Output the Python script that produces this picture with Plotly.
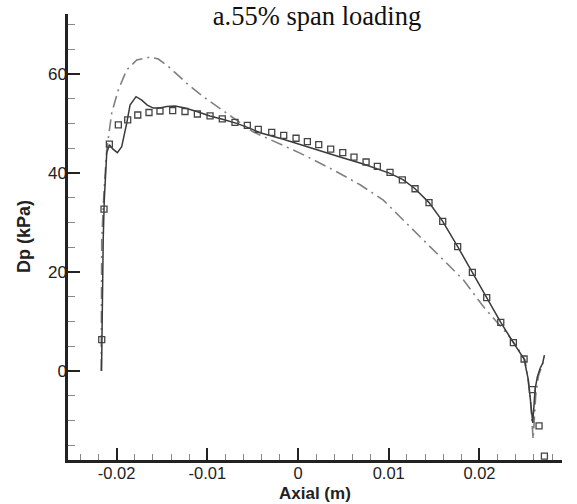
import plotly.graph_objects as go

# Experimental (squares)
exp_x = [-0.02164, -0.02139, -0.02080, -0.01981, -0.01878, -0.01767, -0.01643, -0.01522, -0.01382,
         -0.01246, -0.01110, -0.00970, -0.00835, -0.00695, -0.00559, -0.00438, -0.00290, -0.00158,
         -0.00022, 0.00103, 0.00228, 0.00360, 0.00493, 0.00617, 0.00750, 0.00874, 0.01014, 0.01150,
         0.01290, 0.01444, 0.01595, 0.01760, 0.01922, 0.02080, 0.02235, 0.02374, 0.02492, 0.02583,
         0.02657, 0.02716]
exp_y = [6.3, 32.7, 45.8, 49.7, 50.7, 51.7, 52.2, 52.5, 52.6, 52.4, 51.9, 51.5, 50.9, 50.2, 49.6,
         48.8, 48.2, 47.6, 47.0, 46.3, 45.7, 44.8, 44.1, 43.2, 42.2, 41.3, 40.1, 38.6, 36.8, 34.0,
         30.2, 25.1, 19.9, 14.8, 9.8, 5.7, 2.4, -3.8, -11.1, -17.2]

# Solid line
sol_x = [-0.02166, -0.02158, -0.02148, -0.02136, -0.02109, -0.02080, -0.02040, -0.01992, -0.01944,
         -0.01889, -0.01852, -0.01786, -0.01723, -0.01662, -0.01595, -0.01522, -0.01448, -0.01356,
         -0.01246, -0.01117, -0.00970, -0.00824, -0.00676, -0.00529, -0.00419, -0.00162, 0.00206,
         0.00463, 0.00720, 0.01014, 0.01161, 0.01290, 0.01444, 0.01595, 0.01760, 0.01922, 0.02080,
         0.02235, 0.02374, 0.02492, 0.02539, 0.02569, 0.02588, 0.02613, 0.02638, 0.02668, 0.02698,
         0.02716]
sol_y = [0, 14, 26.5, 34.5, 44.0, 45.7, 44.8, 44.1, 45.3, 50.0, 53.7, 55.4, 54.7, 53.7, 53.1, 53.1,
         53.4, 53.5, 53.1, 52.4, 51.5, 50.8, 50.0, 49.0, 48.1, 46.8, 44.6, 43.2, 41.8, 39.9, 38.6,
         36.8, 34.0, 30.2, 25.1, 19.9, 14.8, 9.8, 5.7, 2.4, -1.8, -6.5, -10.5, -3.8, -1.2, 0.5, 1.6,
         3.2]

# Dash-dot line
dd_x = [-0.02170, -0.02164, -0.02140, -0.02109, -0.02054, -0.01981, -0.01889, -0.01778, -0.01632,
        -0.01540, -0.01411, -0.01227, -0.01044, -0.00860, -0.00713, -0.00496, -0.00309, 0.00022,
        0.00389, 0.00684, 0.00940, 0.01125, 0.01345, 0.01565, 0.01822, 0.02043, 0.02191, 0.02301,
        0.02411, 0.02503, 0.02558, 0.02592, 0.02620, 0.02650, 0.02690, 0.02716]
dd_y = [0, 26.5, 36.0, 44.6, 52.1, 56.8, 60.8, 62.8, 63.4, 63.0, 61.2, 58.1, 55.4, 53.1, 51.1, 48.3,
        46.7, 44.0, 40.6, 37.6, 34.5, 31.2, 27.1, 23.1, 18.4, 13.0, 10.0, 7.6, 4.9, 2.2, -4.8, -13.8,
        -5.0, -1.0, 1.0, 2.8]

x_ticks = [-0.02, -0.01, 0, 0.01, 0.02]
x_tick_text = ["-0.02", "-0.01", "0", "0.01", "0.02"]
y_ticks = [0, 20, 40, 60]

fig = go.Figure()
fig.add_trace(go.Scatter(x=dd_x, y=dd_y, mode="lines",
                         line=dict(color="#808080", width=1.6, dash="12px,5px,2px,5px")))
fig.add_trace(go.Scatter(x=sol_x, y=sol_y, mode="lines",
                         line=dict(color="#3a3a3a", width=1.5)))
fig.add_trace(go.Scatter(x=exp_x, y=exp_y, mode="markers",
                         marker=dict(symbol="square-open", size=6, color="#444444",
                                     line=dict(width=1.3, color="#444444"))))

fig.update_layout(
    width=577, height=504,
    margin=dict(l=68, r=15, t=14, b=44),
    paper_bgcolor="white", plot_bgcolor="white",
    showlegend=False,
    title=dict(text="a.55% span loading", x=317 / 577, xanchor="center", y=1 - 16 / 504,
               yanchor="middle", yref="container",
               font=dict(family="Liberation Serif", size=26.5, color="#111111")),
    xaxis=dict(range=[-0.02536, 0.0291], tickvals=x_ticks, ticktext=x_tick_text,
               automargin=False, ticklabelstandoff=-4,
               showgrid=False, zeroline=False, showline=True, linecolor="#222222", linewidth=2.5,
               ticks="inside", ticklen=12, tickwidth=2, tickcolor="#222222",
               minor=dict(ticks="inside", ticklen=6, tickwidth=1, tickcolor="#888888", dtick=0.002,
                          tick0=0, showgrid=False),
               tickfont=dict(family="Liberation Sans", size=16.5, color="#222222")),
    yaxis=dict(range=[-18.0, 72.1], tickvals=y_ticks,
               automargin=False, ticklabelstandoff=-5,
               showgrid=False, zeroline=False, showline=True, linecolor="#222222", linewidth=2.5,
               ticks="inside", ticklen=12, tickwidth=2, tickcolor="#222222",
               minor=dict(ticks="inside", ticklen=7, tickwidth=1, tickcolor="#888888", dtick=5,
                          tick0=0, showgrid=False),
               tickfont=dict(family="Liberation Sans", size=17, color="#222222")),
    annotations=[
        dict(text="<b>Axial (m)</b>", xref="paper", yref="paper", x=0.5, y=(460 - 493) / 446,
             xanchor="center", yanchor="middle", showarrow=False,
             font=dict(family="Liberation Sans", size=17, color="#222222")),
        dict(text="<b>Dp (kPa)</b>", xref="paper", yref="paper", x=(24 - 68) / 494,
             y=(460 - 237) / 446, xanchor="center", yanchor="middle", textangle=-90,
             showarrow=False, font=dict(family="Liberation Sans", size=18, color="#222222")),
    ],
)
fig.update_xaxes(tickprefix="<b>", ticksuffix="</b>")
fig.update_yaxes(tickprefix="<b>", ticksuffix="</b>")

fig.write_html("out.html")
